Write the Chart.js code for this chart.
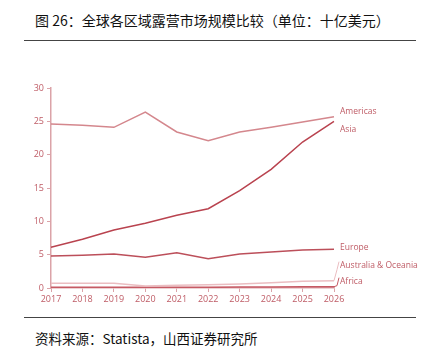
<!DOCTYPE html>
<html>
<head>
<meta charset="utf-8">
<script src="https://cdn.jsdelivr.net/npm/chart.js@4/dist/chart.umd.min.js"></script>
<style>
  body { margin: 0; background: #fff; width: 424px; height: 361px; position: relative; overflow: hidden; }
  .title { position: absolute; left: 35px; top: 10px; font: 14px "Noto Sans CJK SC", sans-serif; color: #111; }
  .rule { position: absolute; left: 24px; width: 392px; height: 1px; background: #444; }
  .source { position: absolute; left: 35px; top: 328px; font: 13.5px "Noto Sans CJK SC", serif; color: #111; }
  .wrap { position: absolute; left: 0; top: 75px; width: 424px; height: 240px; }
</style>
</head>
<body>
<div class="title">图 26：全球各区域露营市场规模比较（单位：十亿美元）</div>
<div class="rule" style="top:40px"></div>
<div class="wrap"><canvas id="marketChart"></canvas></div>
<div class="rule" style="top:317px"></div>
<div class="source">资料来源：Statista，山西证券研究所</div>

<script>
var years = ["2017", "2018", "2019", "2020", "2021", "2022", "2023", "2024", "2025", "2026"];
var regionNames = ["Americas", "Asia", "Europe", "Australia & Oceania", "Africa"];
var americas = [24.6, 24.4, 24.1, 26.4, 23.4, 22.1, 23.4, 24.1, 24.9, 25.7];
var asia = [6.1, 7.3, 8.7, 9.7, 10.9, 11.9, 14.6, 17.8, 21.9, 25.0];
var europe = [4.8, 4.9, 5.1, 4.6, 5.3, 4.4, 5.1, 5.4, 5.7, 5.8];
var oceania = [0.7, 0.7, 0.7, 0.3, 0.4, 0.5, 0.6, 0.8, 1.0, 1.1];
var africa = [0.1, 0.1, 0.1, 0.1, 0.1, 0.1, 0.15, 0.15, 0.2, 0.2];
var yTicks = [0, 5, 10, 15, 20, 25, 30];

var axisColor = "#dba3a8";
var textColor = "#bf5c66";
var lineColors = ["#d4878d", "#b9434f", "#bc4f5a", "#ebbdc1", "#c65a64"];
// label y offsets relative to the last point, in px
var labelShift = [-5, 8, -2, -15, -5];

var endLabels = {
    id: "endLabels",
    afterDatasetsDraw: function (chart) {
        var ctx = chart.ctx;
        var area = chart.chartArea;
        ctx.save();
        ctx.font = "8.5px 'Open Sans', sans-serif";
        ctx.fillStyle = textColor;
        ctx.textBaseline = "middle";
        chart.data.datasets.forEach(function (ds, i) {
            var meta = chart.getDatasetMeta(i);
            var pt = meta.data[meta.data.length - 1];
            var ly = pt.y + labelShift[i];
            var lx = area.right + 6;
            if (i >= 3) {
                ctx.strokeStyle = lineColors[i];
                ctx.lineWidth = 1;
                ctx.beginPath();
                ctx.moveTo(pt.x, pt.y);
                ctx.lineTo(pt.x + 3, ly + 4);
                ctx.lineTo(lx - 1, ly - 4);
                ctx.stroke();
            }
            ctx.fillText(ds.label, lx, ly);
        });
        ctx.restore();
    }
};

var series = [americas, asia, europe, oceania, africa];

new Chart(document.getElementById("marketChart"), {
    type: "line",
    data: {
        labels: years,
        datasets: series.map(function (d, i) {
            return {
                label: regionNames[i],
                data: d,
                borderColor: lineColors[i],
                borderWidth: 1.5,
                pointRadius: 0,
                tension: 0,
                fill: false
            };
        })
    },
    options: {
        responsive: true,
        maintainAspectRatio: false,
        animation: false,
        layout: { padding: { top: 13, right: 90, left: 0, bottom: 0 } },
        plugins: {
            legend: { display: false },
            tooltip: { enabled: false }
        },
        scales: {
            x: {
                grid: { display: true, drawOnChartArea: false, drawTicks: true, tickLength: 4, color: axisColor },
                border: { color: axisColor, width: 1.5 },
                ticks: { color: textColor, font: { size: 9, family: "'Open Sans', sans-serif" }, maxRotation: 0, padding: 2 },
                afterFit: function (s) { s.height = 27; }
            },
            y: {
                min: 0,
                max: 30,
                afterBuildTicks: function (s) { s.ticks = yTicks.map(function (v) { return { value: v }; }); },
                grid: { display: true, drawOnChartArea: false, drawTicks: true, tickLength: 4, color: axisColor },
                border: { color: axisColor, width: 1.5 },
                ticks: { color: textColor, font: { size: 9, family: "'Open Sans', sans-serif" }, padding: 3 },
                afterFit: function (s) { s.width = 51; }
            }
        }
    },
    plugins: [endLabels]
});
</script>
</body>
</html>
